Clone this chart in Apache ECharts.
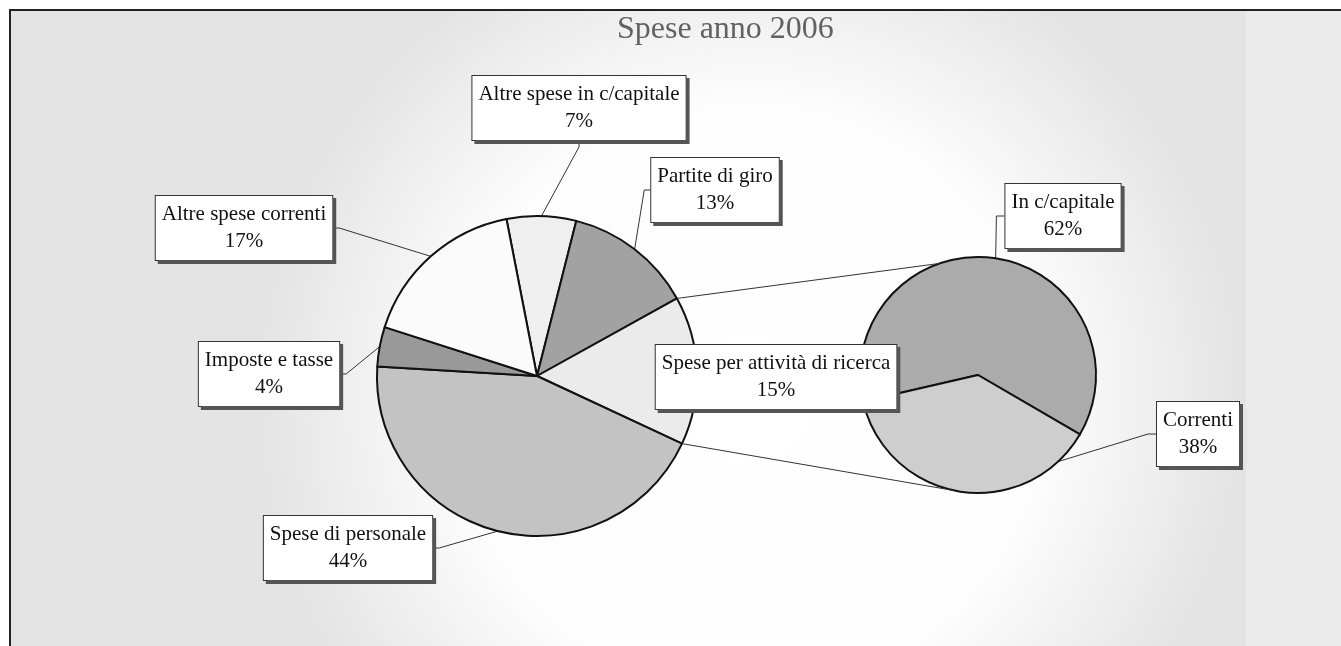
<!DOCTYPE html>
<html>
<head>
<meta charset="utf-8">
<title>Spese anno 2006</title>
<script src="https://cdn.jsdelivr.net/npm/echarts@6/dist/echarts.min.js"></script>
<style>
  html, body { margin: 0; padding: 0; background: #fff; }
  #chart { width: 1341px; height: 646px; }
</style>
</head>
<body>
<div id="chart"></div>
<script>
(function(){
    'use strict';

    // dati (percentuali)
    var mainNames = ['Altre spese in c/capitale', 'Partite di giro', 'Spese per attività di ricerca', 'Spese di personale', 'Imposte e tasse', 'Altre spese correnti'];
    var mainValues = [7, 13, 15, 44, 4, 17];
    var subNames = ['In c/capitale', 'Correnti'];
    var subValues = [62, 38];

    // stile / posizioni
    var mainColors = ['#efefef', '#a2a2a2', '#ebebeb', '#c3c3c3', '#999999', '#fbfbfb'];
    var subColors = ['#ababab', '#cecece'];
    var mainCenter = [537, 376], mainRadius = 160, mainStart = 101;
    var subCenter = [978, 375], subRadius = 118, subStart = 193;
    var mainLabelPos = [[579, 108], [715, 190], [776, 377], [348, 548], [269, 374], [244, 228]];
    var subLabelPos = [[1063, 216], [1198, 434]];
    var explodedIndex = 2; // fetta espansa nel secondo grafico

    var labelStyle = {
        show: true,
        formatter: '{b}\n{c}%',
        fontFamily: 'Liberation Serif',
        fontSize: 21,
        lineHeight: 27,
        color: '#111',
        align: 'center',
        backgroundColor: '#fff',
        borderColor: '#333',
        borderWidth: 1,
        padding: [5, 6],
        shadowColor: '#555',
        shadowBlur: 0,
        shadowOffsetX: 3,
        shadowOffsetY: 3
    };

    function buildData(names, values, colors){
        var data = [];
        for (var i = 0; i < names.length; i++){
            var item = {name: names[i], value: values[i], itemStyle: {color: colors[i]}};
            if (names === mainNames && i === explodedIndex) item.labelLine = {show: false};
            data.push(item);
        }
        return data;
    }

    function layoutFor(pos){
        return function(params){
            var p = pos[params.dataIndex];
            return {x: p[0], y: p[1], align: 'center', verticalAlign: 'middle'};
        };
    }

    function sumBefore(values, idx){
        var s = 0;
        for (var i = 0; i < idx; i++) s += values[i];
        return s;
    }
    function total(values){ return sumBefore(values, values.length); }

    function pointAt(center, r, deg){
        var a = deg * Math.PI / 180;
        return [center[0] + r * Math.cos(a), center[1] - r * Math.sin(a)];
    }

    // linee di collegamento tra i due grafici
    var tot = total(mainValues);
    var a1 = mainStart - sumBefore(mainValues, explodedIndex) / tot * 360;
    var a2 = a1 - mainValues[explodedIndex] / tot * 360;
    var p1 = pointAt(mainCenter, mainRadius, a1);
    var p2 = pointAt(mainCenter, mainRadius, a2);
    var q1 = pointAt(subCenter, subRadius, 109);
    var q2 = pointAt(subCenter, subRadius, -102);

    var chart = echarts.init(document.getElementById('chart'));
    var option = {
        animation: false,
        backgroundColor: '#fff',
        title: {
            text: 'Spese anno 2006',
            left: 612,
            top: 9,
            textStyle: {fontFamily: 'Liberation Serif', fontSize: 32, fontWeight: 'normal', color: '#626262'}
        },
        graphic: [
            {
                type: 'rect', z: -100,
                shape: {x: 10, y: 10, width: 1345, height: 650},
                style: {
                    fill: {
                        type: 'radial', x: 0.55, y: 0.6, r: 0.75,
                        colorStops: [{offset: 0, color: '#ffffff'}, {offset: 0.6, color: '#fdfdfd'}, {offset: 1, color: '#e4e4e4'}]
                    },
                    stroke: '#222', lineWidth: 2
                }
            },
            {
                type: 'rect', z: -99,
                shape: {x: 1246, y: 11, width: 100, height: 640},
                style: {fill: '#eaeaea'}
            },
            {
                type: 'polyline', z: 10,
                shape: {points: [p1, q1]},
                style: {stroke: '#333', lineWidth: 1, fill: null}
            },
            {
                type: 'polyline', z: 10,
                shape: {points: [p2, q2]},
                style: {stroke: '#333', lineWidth: 1, fill: null}
            }
        ],
        series: [
            {
                type: 'pie',
                center: mainCenter,
                radius: mainRadius,
                startAngle: mainStart,
                avoidLabelOverlap: false,
                itemStyle: {borderColor: '#111', borderWidth: 2},
                label: labelStyle,
                labelLine: {show: true, length: 10, length2: 6, lineStyle: {color: '#333', width: 1}},
                labelLayout: layoutFor(mainLabelPos),
                emphasis: {disabled: true},
                data: buildData(mainNames, mainValues, mainColors)
            },
            {
                type: 'pie',
                center: subCenter,
                radius: subRadius,
                startAngle: subStart,
                avoidLabelOverlap: false,
                itemStyle: {borderColor: '#111', borderWidth: 2},
                label: labelStyle,
                labelLine: {show: true, length: 10, length2: 8, lineStyle: {color: '#333', width: 1}},
                labelLayout: layoutFor(subLabelPos),
                emphasis: {disabled: true},
                data: buildData(subNames, subValues, subColors)
            }
        ]
    };
    chart.setOption(option);
})();
</script>
</body>
</html>
